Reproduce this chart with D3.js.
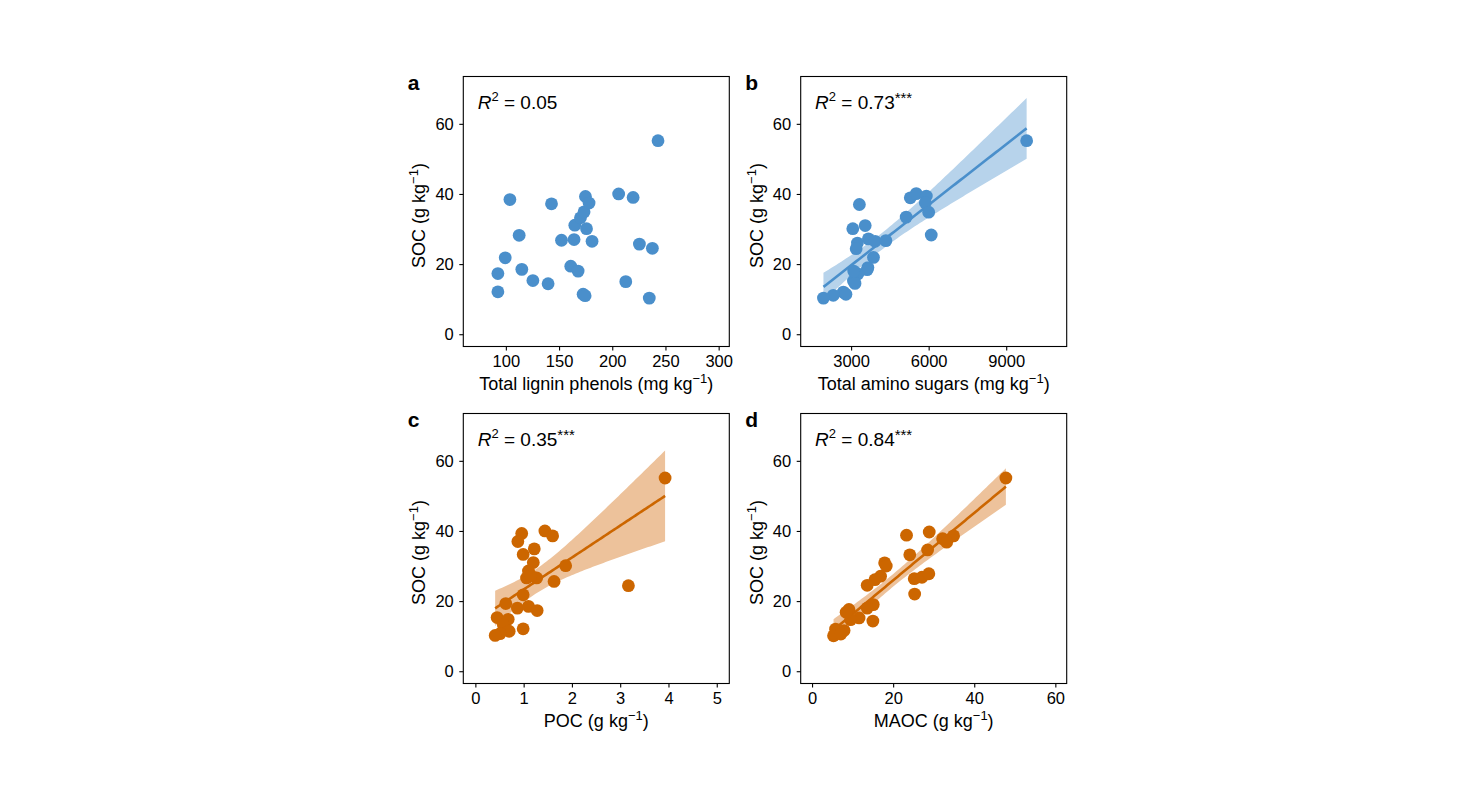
<!DOCTYPE html>
<html>
<head>
<meta charset="utf-8">
<script src="https://cdn.jsdelivr.net/npm/d3@7"></script>
<style>
body { margin: 0; background: #fff; }
svg text { font-family: "Liberation Sans", Arial, sans-serif; fill: #000; }
</style>
</head>
<body>
<svg id="chart" width="1480" height="807"></svg>
<script>
// values (SOC on y in every panel)
var lignin = [243, 103.8, 142.9, 112.5, 99.4, 92.5, 92.5, 115, 125.4, 139.7, 152.3, 164.1, 164.8, 170.1, 173.5, 174.8, 178.2, 175.8, 181.0, 161.0, 167.9, 172.6, 174.5, 206, 219.6, 225.5, 237.7, 212.7, 234.8];
var socLignin = [55.2, 38.4, 37.2, 28.2, 21.8, 17.3, 12.1, 18.5, 15.3, 14.4, 26.8, 27.0, 31.1, 33.2, 34.9, 39.3, 37.4, 30.1, 26.5, 19.4, 18.0, 11.4, 11.0, 40.0, 39.0, 25.7, 24.5, 15.0, 10.3];

var aminoSugars = [9790, 3320, 3065, 3545, 3245, 3195, 3670, 3930, 4345, 3865, 3650, 3620, 3260, 3090, 3150, 2700, 2310, 1930, 2800, 5130, 5290, 5520, 5910, 5870, 6000, 6100, 3100];
var socAmino = [55.2, 37.0, 30.1, 31.0, 26.0, 24.4, 27.2, 26.5, 26.7, 21.9, 19.0, 18.4, 17.2, 15.2, 14.5, 12.0, 11.1, 10.3, 11.4, 33.4, 38.9, 40.1, 39.4, 37.5, 34.8, 28.3, 18.0];

var poc = [3.93, 3.17, 1.87, 1.63, 1.44, 1.60, 0.96, 0.88, 0.99, 1.22, 1.20, 1.10, 1.06, 1.27, 0.99, 0.63, 0.87, 1.10, 1.28, 0.45, 0.68, 0.58, 0.70, 0.51, 0.41, 0.99, 1.15];
var socPoc = [55.1, 24.4, 30.1, 25.6, 40.0, 38.6, 39.3, 37.0, 33.3, 34.9, 31.0, 28.6, 26.6, 26.6, 21.8, 19.3, 18.0, 18.5, 17.3, 15.3, 14.8, 13.2, 11.4, 10.7, 10.2, 12.1, 27.2];

var maoc = [47.8, 28.9, 23.3, 34.9, 32.2, 33.2, 24.1, 28.5, 17.9, 18.3, 16.9, 15.5, 13.6, 25.2, 27.1, 28.8, 25.3, 15.1, 13.6, 9.1, 11.6, 9.5, 15.0, 5.8, 7.9, 5.3, 7.1, 8.4];
var socMaoc = [55.1, 39.7, 38.8, 38.6, 37.8, 36.8, 33.2, 34.6, 30.9, 30.0, 27.1, 26.1, 24.5, 26.4, 26.8, 27.8, 22.0, 19.0, 18.0, 17.6, 15.2, 14.7, 14.3, 12.0, 11.6, 10.1, 10.6, 16.8];

var yTicks = [0, 20, 40, 60];
var xTicksA = [100, 150, 200, 250, 300];
var xTicksB = [3000, 6000, 9000];
var xTicksC = [0, 1, 2, 3, 4, 5];
var xTicksD = [0, 20, 40, 60];

var r2Labels = ["0.05", "0.73", "0.35", "0.84"];
var r2Stars = ["", "***", "***", "***"];
var panelLetters = ["a", "b", "c", "d"];
var xTitles = ["Total lignin phenols (mg kg", "Total amino sugars (mg kg", "POC (g kg", "MAOC (g kg"];

var blue = "#4a8fcb", blueBand = "#b7d3eb";
var orange = "#cc6600", orangeBand = "#edc29b";

var W = 266, H = 270;
var panels = [
    { x: lignin, y: socLignin, dom: [60, 310], ticks: xTicksA, left: 463.3, top: 76.5, col: blue, band: blueBand, fit: false },
    { x: aminoSugars, y: socAmino, dom: [1050, 11340], ticks: xTicksB, left: 800.7, top: 76.5, col: blue, band: blueBand, fit: true },
    { x: poc, y: socPoc, dom: [-0.25, 5.26], ticks: xTicksC, left: 463.3, top: 413.5, col: orange, band: orangeBand, fit: true },
    { x: maoc, y: socMaoc, dom: [-2.8, 62.8], ticks: xTicksD, left: 800.7, top: 413.5, col: orange, band: orangeBand, fit: true }
];

// linear fit with 95% confidence band, like geom_smooth(method = "lm")
function lmBand(xs, ys) {
    var n = xs.length;
    var mx = d3.mean(xs), my = d3.mean(ys);
    var sxx = 0, sxy = 0;
    xs.forEach(function (v, i) { sxx += (v - mx) * (v - mx); sxy += (v - mx) * (ys[i] - my); });
    var b = sxy / sxx, a = my - b * mx;
    var sse = 0;
    xs.forEach(function (v, i) { var e = ys[i] - (a + b * v); sse += e * e; });
    var s = Math.sqrt(sse / (n - 2));
    var t = 2.055;
    var lo = d3.min(xs), hi = d3.max(xs);
    var out = [];
    for (var k = 0; k <= 80; k++) {
        var xv = lo + (hi - lo) * k / 80;
        var fit = a + b * xv;
        var se = s * Math.sqrt(1 / n + (xv - mx) * (xv - mx) / sxx);
        out.push({ x: xv, y: fit, lo: fit - t * se, hi: fit + t * se });
    }
    return out;
}

var svg = d3.select("#chart");

panels.forEach(function (p, i) {
    var g = svg.append("g").attr("transform", "translate(" + p.left + "," + p.top + ")");
    var x = d3.scaleLinear().domain(p.dom).range([0, W]);
    var y = d3.scaleLinear().domain([-3.5, 73.5]).range([H, 0]);

    if (p.fit) {
        var band = lmBand(p.x, p.y);
        g.append("path")
            .datum(band)
            .attr("fill", p.band)
            .attr("d", d3.area().x(function (d) { return x(d.x); }).y0(function (d) { return y(d.lo); }).y1(function (d) { return y(d.hi); }));
        g.append("path")
            .datum(band)
            .attr("fill", "none")
            .attr("stroke", p.col)
            .attr("stroke-width", 2.6)
            .attr("d", d3.line().x(function (d) { return x(d.x); }).y(function (d) { return y(d.y); }));
    }

    g.selectAll(".dot")
        .data(p.x.map(function (v, k) { return [v, p.y[k]]; }))
        .enter().append("circle")
        .attr("class", "dot")
        .attr("cx", function (d) { return x(d[0]); })
        .attr("cy", function (d) { return y(d[1]); })
        .attr("r", 6.4)
        .attr("fill", p.col);

    g.append("rect")
        .attr("width", W).attr("height", H)
        .attr("fill", "none").attr("stroke", "#000").attr("stroke-width", 1.1);

    var xa = g.append("g")
        .attr("transform", "translate(0," + H + ")")
        .call(d3.axisBottom(x).tickValues(p.ticks).tickSize(4).tickPadding(5).tickFormat(d3.format("d")));
    var ya = g.append("g")
        .call(d3.axisLeft(y).tickValues(yTicks).tickSize(4).tickPadding(5.5).tickFormat(d3.format("d")));
    [xa, ya].forEach(function (ax) {
        ax.select(".domain").remove();
        ax.selectAll("line").attr("stroke", "#000").attr("stroke-width", 1.1);
        ax.selectAll("text").attr("font-size", 16.5).attr("fill", "#000")
            .attr("font-family", "'Liberation Sans', Arial, sans-serif");
    });

    // x title with superscript
    var xt = g.append("text")
        .attr("x", W / 2).attr("y", H + 43)
        .attr("text-anchor", "middle").attr("font-size", 18);
    xt.append("tspan").text(xTitles[i]);
    xt.append("tspan").attr("dy", -7).attr("font-size", 13).text("\u22121");
    xt.append("tspan").attr("dy", 7).text(")");

    // y title
    var yt = g.append("text")
        .attr("transform", "translate(-38," + (H / 2 + 4) + ") rotate(-90)")
        .attr("text-anchor", "middle").attr("font-size", 18);
    yt.append("tspan").text("SOC (g kg");
    yt.append("tspan").attr("dy", -7).attr("font-size", 13).text("\u22121");
    yt.append("tspan").attr("dy", 7).text(")");

    // R2 label
    var rt = g.append("text").attr("x", 14.4).attr("y", 32.8).attr("font-size", 19);
    rt.append("tspan").attr("font-style", "italic").text("R");
    rt.append("tspan").attr("dy", -8).attr("font-size", 13).text("2");
    rt.append("tspan").attr("dy", 8).text(" = " + r2Labels[i]);
    if (r2Stars[i]) rt.append("tspan").attr("dy", -6).attr("font-size", 15).text(r2Stars[i]);

    // panel letter
    g.append("text")
        .attr("x", -55.5).attr("y", 13.5)
        .attr("font-size", 21).attr("font-weight", "bold")
        .text(panelLetters[i]);
});
</script>
</body>
</html>
